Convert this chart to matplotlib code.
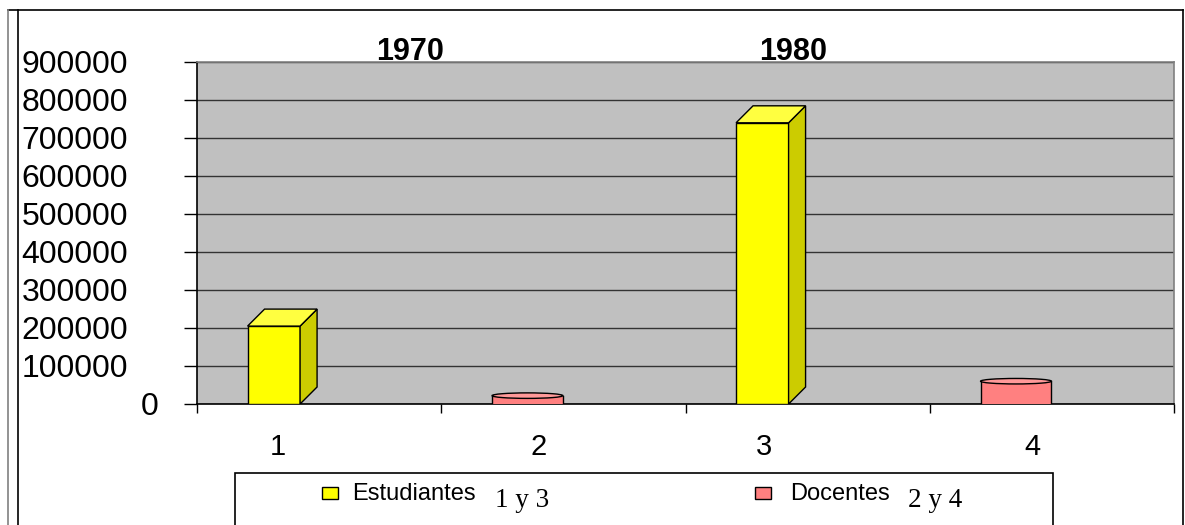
import matplotlib
matplotlib.use('Agg')
import matplotlib.pyplot as plt
from matplotlib.patches import Rectangle, Polygon, Ellipse
from matplotlib.lines import Line2D
from matplotlib.transforms import Affine2D, blended_transform_factory

# ---------------- data ----------------
categories = ['1', '2', '3', '4']
estudiantes_cats = [1, 3]
estudiantes_vals = [205000, 740000]
docentes_cats = [2, 4]
docentes_vals = [22000, 60000]
series_names = ['Estudiantes', 'Docentes']
legend_notes = ['1 y 3', '2 y 4']
year_titles = ['1970', '1980']
y_ticks = [0, 100000, 200000, 300000, 400000, 500000, 600000, 700000, 800000, 900000]

# ---------------- style ----------------
W, H = 1185, 525
plt.rcParams['font.family'] = ['Liberation Sans', 'DejaVu Sans']
fig = plt.figure(figsize=(W / 100, H / 100), dpi=100)
pix = Affine2D().scale(1 / W, -1 / H).translate(0, 1) + fig.transFigure

ax_l, ax_r, ax_t, ax_b = 197, 1174, 62, 404
ax = fig.add_axes([ax_l / W, 1 - ax_b / H, (ax_r - ax_l) / W, (ax_b - ax_t) / H])
ax.set_facecolor('#C0C0C0')
ymax = y_ticks[-1]
ax.set_xlim(0, len(categories))
ax.set_ylim(0, ymax)

px_x = (ax_r - ax_l) / len(categories)
px_y = (ax_b - ax_t) / ymax
dx = 17 / px_x
dy = 17 / px_y

YEL, YEL_SIDE, YEL_TOP = '#FFFF00', '#CCCC00', '#FFFF40'
RED, RED_TOP = '#FF8080', '#FF9999'

# yellow 3D boxes
bw = 0.215
for c, v in zip(estudiantes_cats, estudiantes_vals):
    x0 = (c - 1) + 0.207
    ax.add_patch(Rectangle((x0, 0), bw, v, facecolor=YEL, edgecolor='black', lw=1, zorder=3))
    ax.add_patch(Polygon([(x0 + bw, 0), (x0 + bw + dx, dy), (x0 + bw + dx, v + dy), (x0 + bw, v)],
                         closed=True, facecolor=YEL_SIDE, edgecolor='black', lw=1, zorder=3))
    ax.add_patch(Polygon([(x0, v), (x0 + dx, v + dy), (x0 + bw + dx, v + dy), (x0 + bw, v)],
                         closed=True, facecolor=YEL_TOP, edgecolor='black', lw=1, zorder=3))

# red cylinders
cw = 0.29
eh = 5.5 / px_y
for c, v in zip(docentes_cats, docentes_vals):
    xc = (c - 1) + 0.353
    ax.add_patch(Rectangle((xc - cw / 2, 0), cw, v, facecolor=RED, edgecolor='none', zorder=3))
    ax.plot([xc - cw / 2, xc - cw / 2], [0, v], color='black', lw=1, zorder=3)
    ax.plot([xc + cw / 2, xc + cw / 2], [0, v], color='black', lw=1, zorder=3)
    ax.add_patch(Ellipse((xc, v), cw, eh, facecolor=RED_TOP, edgecolor='black', lw=1, zorder=4))

# grid + y ticks (labels placed manually as in the original layout)
ax.set_axisbelow(True)
ax.set_yticks(y_ticks)
ax.set_yticklabels([])
ax.yaxis.grid(True, color='#333333', lw=1)
ax.tick_params(axis='y', length=9.4, width=1, colors='black')
ylab_tr = blended_transform_factory(Affine2D().scale(1 / W, 1) + fig.transFigure, ax.transData)
for t in y_ticks:
    xr = 158 if t == 0 else 128
    ax.text(xr, t - 3 / px_y, str(t), transform=ylab_tr, ha='right', va='center',
            fontsize=23, clip_on=False)

ax.set_xticks(range(len(categories) + 1))
ax.set_xticklabels([])
ax.tick_params(axis='x', which='major', length=6.5, width=1)
label_pos = [0.33, 1.40, 2.32, 3.42]
ax.set_xticks(label_pos, minor=True)
ax.set_xticklabels(categories, minor=True)
ax.tick_params(axis='x', which='minor', length=0, pad=21, labelsize=21)

for s in ['left', 'bottom']:
    ax.spines[s].set_color('black')
    ax.spines[s].set_linewidth(1.2)
for s in ['top', 'right']:
    ax.spines[s].set_color('#808080')
    ax.spines[s].set_linewidth(1.2)

# year titles
tr = ax.get_xaxis_transform()
for xt, t in zip([0.872, 2.44], year_titles):
    ax.text(xt, (ax_b - 60) / (ax_b - ax_t), t, transform=tr, ha='center', va='baseline',
            fontsize=22, fontweight='bold')

# legend (drawn in pixel coordinates)
fig.add_artist(Rectangle((235, 473), 818, 70, transform=pix, facecolor='white',
                         edgecolor='black', lw=1.2, clip_on=False))
leg_items = [(322, 352, 495, YEL), (755, 790, 908, RED)]
for (sx, tx, nx, col), name, note in zip(leg_items, series_names, legend_notes):
    fig.add_artist(Rectangle((sx, 487), 16, 12, transform=pix, facecolor=col,
                             edgecolor='black', lw=1, clip_on=False))
    fig.text(tx, 500, name, transform=pix, fontsize=17, va='baseline', ha='left')
    fig.text(nx, 507, note, transform=pix, fontsize=19.5, va='baseline', ha='left',
             family=['Liberation Serif', 'DejaVu Serif'])

# outer frame
fig.add_artist(Line2D([8, 1183], [10, 10], transform=pix, color='black', lw=1.2))
fig.add_artist(Line2D([1183, 1183], [10, 525], transform=pix, color='black', lw=1.2))
fig.add_artist(Line2D([8, 8], [10, 525], transform=pix, color='#808080', lw=1.2))
fig.add_artist(Line2D([18, 18], [10, 525], transform=pix, color='black', lw=1.2))

fig.savefig('out.png', dpi=100)
